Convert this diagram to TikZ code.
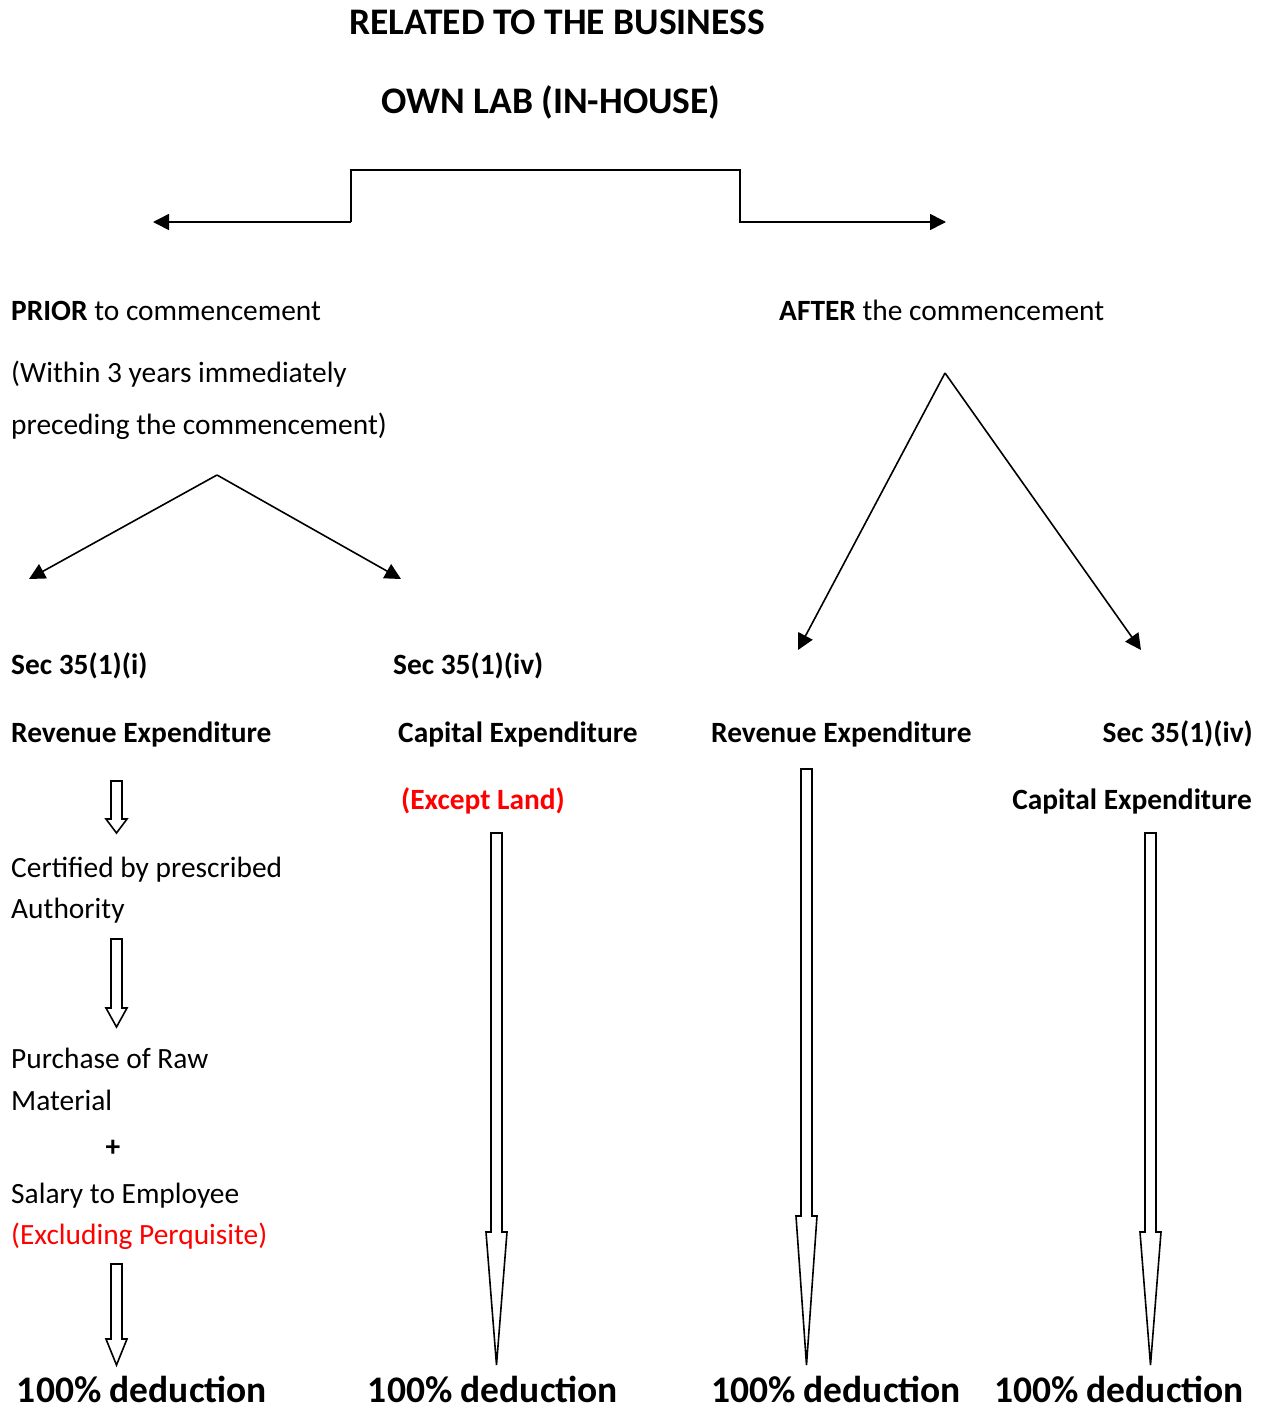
\documentclass[tikz,border=0pt]{standalone}
\usepackage{fontspec}
\setmainfont{Carlito}
\usetikzlibrary{arrows.meta}
\definecolor{redtxt}{RGB}{255,0,0}
\newcommand{\blkarrow}[4]{\draw[blkarrow] ({#1-5.5},#2) -- ({#1+5.5},#2) -- ({#1+5.5},#3) -- ({#1+10.5},#3) -- (#1,#4) -- ({#1-10.5},#3) -- ({#1-5.5},#3) -- cycle;}
\begin{document}
\begin{tikzpicture}[x=1pt,y=-1pt,
  txt/.style={anchor=west, inner sep=0pt, text height=19pt, text depth=0pt, font=\fontsize{29.4}{35}\selectfont},
  txtr/.style={txt, anchor=east},
  btxt/.style={txt, font=\fontsize{29.4}{35}\selectfont\bfseries},
  btxtr/.style={btxt, anchor=east},
  title/.style={anchor=center, inner sep=0pt, text height=24pt, text depth=0pt, font=\fontsize{37.5}{44}\selectfont\bfseries},
  big/.style={anchor=center, inner sep=0pt, text height=24pt, text depth=0pt, font=\fontsize{37.5}{44}\selectfont\bfseries},
  conn/.style={line width=1.6pt, -{Triangle[length=16pt,width=16pt]}},
  blkarrow/.style={line width=1.6pt, draw=black, fill=white, line join=miter}
]
\useasboundingbox (0,0) rectangle (1265,1408);

% titles
\node[title] (t1) at (557,22) {RELATED TO THE BUSINESS};
\node[title] (t2) at (551,101) {OWN LAB (IN-HOUSE)};

% bracket connector
\coordinate (bl) at (153,222);
\coordinate (br) at (946,222);
\draw[conn] (351,222) -- (351,170) -- (740,170) -- (740,222) -- (br);
\draw[conn] (351,222) -- (bl);

% prior / after
\node[txt] (prior) at (11,311) {\textbf{PRIOR} to commencement};
\node[txt] (within1) at (11,373) {(Within 3 years immediately};
\node[txt] (within2) at (11,425) {preceding the commencement)};
\node[txt] (after) at (779,311) {\textbf{AFTER} the commencement};

\coordinate (apexL) at (217,475);
\coordinate (aL1) at (29,579);
\coordinate (aL2) at (401,579);
\draw[conn] (apexL) -- (aL1);
\draw[conn] (apexL) -- (aL2);

\coordinate (apexR) at (945,373);
\coordinate (aR1) at (798,650);
\coordinate (aR2) at (1141,650);
\draw[conn] (apexR) -- (aR1);
\draw[conn] (apexR) -- (aR2);

% section labels
\node[btxt] (s1) at (11,665) {Sec 35(1)(i)};
\node[btxt] (s2) at (393,665) {Sec 35(1)(iv)};
\node[btxt] (rev1) at (11,733) {Revenue Expenditure};
\node[btxt] (cap1) at (398,733) {Capital Expenditure};
\node[btxt] (rev2) at (711,733) {Revenue Expenditure};
\node[btxtr] (s4) at (1253,733) {Sec 35(1)(iv)};
\node[btxt, text=redtxt] (exc) at (401,800) {(Except Land)};
\node[btxtr] (cap2) at (1252,800) {Capital Expenditure};

% left column
\node[txt] (cert1) at (11,868) {Certified by prescribed};
\node[txt] (cert2) at (11,909) {Authority};
\node[txt] (pur1) at (11,1059) {Purchase of Raw};
\node[txt] (pur2) at (11,1101) {Material};
\node[anchor=center, inner sep=0pt, font=\fontsize{29.4}{35}\selectfont\bfseries] (plus) at (113,1148) {+};
\node[txt] (sal1) at (11,1194) {Salary to Employee};
\node[txt, text=redtxt] (sal2) at (11,1235) {(Excluding Perquisite)};

% block arrows
\blkarrow{116.5}{781}{819}{833}
\blkarrow{116.5}{939}{1008}{1027}
\blkarrow{116.5}{1264}{1339}{1365}
\blkarrow{496.5}{833}{1232}{1365}
\blkarrow{806.5}{769}{1216}{1365}
\blkarrow{1150.5}{833}{1232}{1365}

% results
\node[big] (d1) at (142,1390) {100\% deduction};
\node[big] (d2) at (493,1390) {100\% deduction};
\node[big] (d3) at (836,1390) {100\% deduction};
\node[big] (d4) at (1119,1390) {100\% deduction};
\end{tikzpicture}
\end{document}
